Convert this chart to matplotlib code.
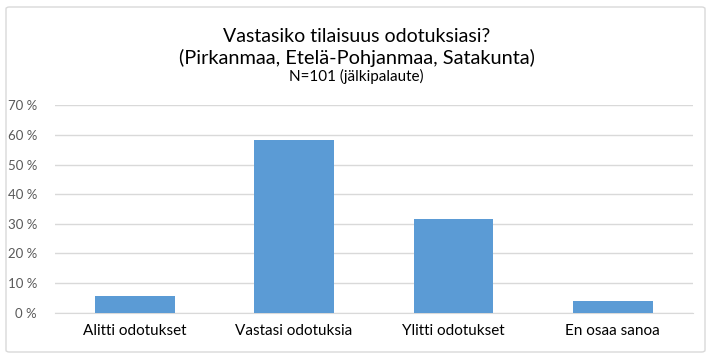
import matplotlib
matplotlib.use("Agg")
import matplotlib.pyplot as plt
from matplotlib.patches import FancyBboxPatch
import numpy as np

categories = ["Alitti odotukset", "Vastasi odotuksia", "Ylitti odotukset", "En osaa sanoa"]
values = [5.7, 58.4, 31.7, 4.0]
yticks = [0, 10, 20, 30, 40, 50, 60, 70]
title1 = "Vastasiko tilaisuus odotuksiasi?"
title2 = "(Pirkanmaa, Etelä-Pohjanmaa, Satakunta)"
subtitle = "N=101 (jälkipalaute)"

plt.rcParams['font.family'] = ['Lato', 'DejaVu Sans']

fig = plt.figure(figsize=(7.13, 3.58), dpi=100)
fig.patch.set_facecolor("white")
border = FancyBboxPatch((6/713, 6/358), 699/713, 345/358, boxstyle="round,pad=0,rounding_size=0.005",
                        transform=fig.transFigure, fill=False, edgecolor="#d9d9d9", linewidth=1)
fig.patches.append(border)

ax = fig.add_axes([55/713, 1-312.5/358, 637.5/713, 207.2/358])
x = np.arange(len(categories))
ax.bar(x, values, width=0.5, color="#5b9bd5", zorder=3)
ax.set_xlim(-0.5, 3.5)
ax.set_ylim(0, 70)
ax.set_yticks(yticks)
ax.set_yticklabels([f"{t} %" for t in yticks], color="#595959", fontsize=9.5)
ax.set_xticks(x)
ax.set_xticklabels(categories, color="#000000", fontsize=11)
ax.tick_params(axis='both', length=0)
ax.tick_params(axis='y', pad=13)
ax.tick_params(axis='x', pad=8)
ax.grid(axis='y', color="#d9d9d9", linewidth=1, zorder=0)
for s in ["top", "right", "left"]:
    ax.spines[s].set_visible(False)
ax.spines["bottom"].set_color("#d9d9d9")

fig.text(0.5, 1-37/358, title1, ha="center", va="center", fontsize=14, color="#000000")
fig.text(0.5, 1-58/358, title2, ha="center", va="center", fontsize=14.4, color="#000000")
fig.text(0.5, 1-76/358, subtitle, ha="center", va="center", fontsize=11, color="#000000")

fig.savefig("out.png", dpi=100)
